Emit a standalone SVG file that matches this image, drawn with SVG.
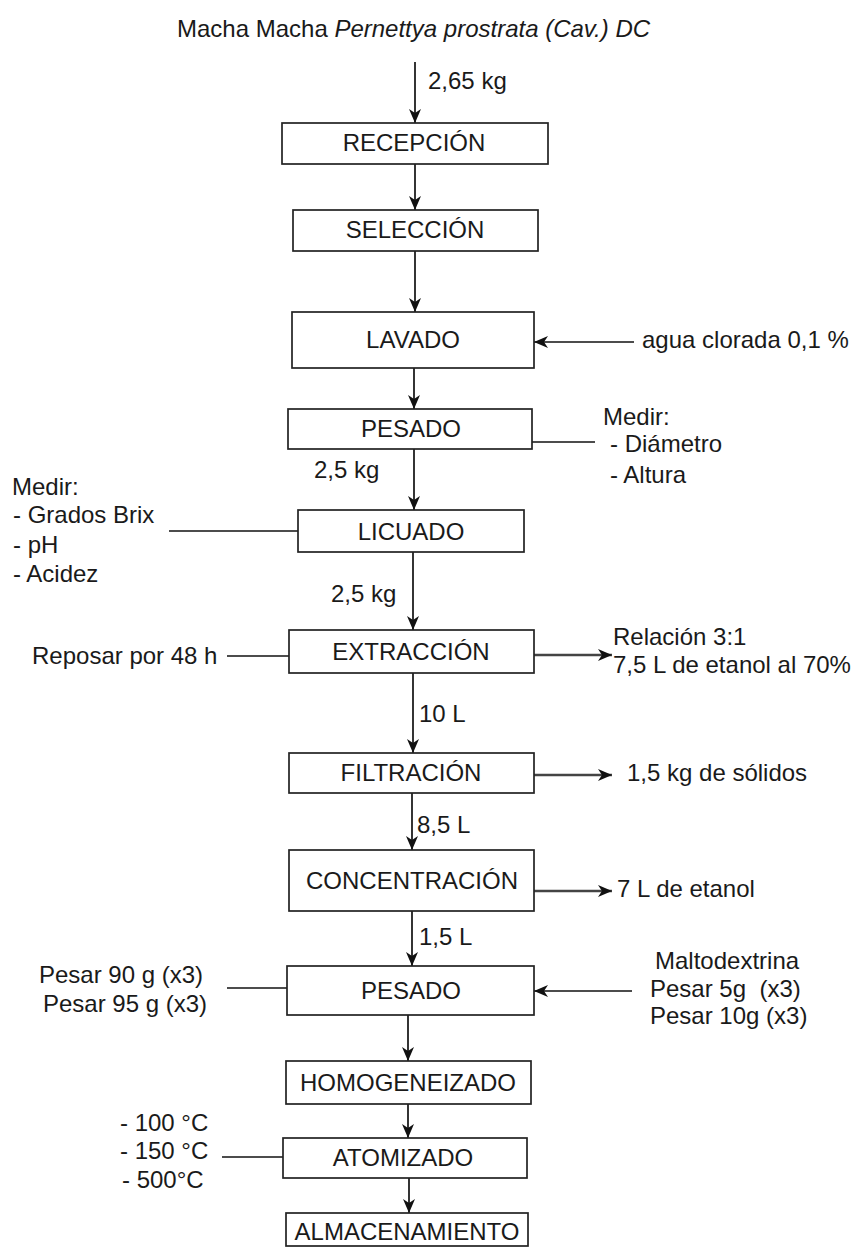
<svg xmlns="http://www.w3.org/2000/svg" width="855" height="1248" viewBox="0 0 855 1248">
<style>
  text { font-family: "Liberation Sans", Arial, sans-serif; font-size: 24px; fill: #1a1a1a; }
  .c { text-anchor: middle; }
  .box { fill: #ffffff; stroke: #222222; stroke-width: 1.7; }
  .ln { stroke: #111111; stroke-width: 1.7; fill: none; }
  .arr { stroke: #111111; stroke-width: 1.7; fill: none; marker-end: url(#ah); }
  .arrg { stroke: #444444; stroke-width: 2.6; fill: none; marker-end: url(#ah); }
</style>
<defs>
  <marker id="ah" markerUnits="userSpaceOnUse" markerWidth="16" markerHeight="14" refX="14" refY="7" orient="auto">
    <path d="M0,1 L14,7 L0,13 L4,7 Z" fill="#111111"/>
  </marker>
</defs>
<rect x="0" y="0" width="855" height="1248" fill="#ffffff"/>

<g id="title">
  <text x="177" y="37">Macha Macha <tspan font-style="italic">Pernettya prostrata (Cav.) DC</tspan></text>
</g>

<g id="connectors">
  <line class="arr" x1="415" y1="62" x2="415" y2="123"/>
  <line class="arr" x1="415" y1="164" x2="415" y2="210"/>
  <line class="arr" x1="415" y1="251" x2="415" y2="312"/>
  <line class="arr" x1="634" y1="342" x2="534" y2="342"/>
  <line class="arr" x1="414" y1="368" x2="414" y2="409"/>
  <line class="ln" x1="532" y1="442" x2="595" y2="442"/>
  <line class="arr" x1="414" y1="449" x2="414" y2="510"/>
  <line class="ln" x1="169" y1="531" x2="298" y2="531"/>
  <line class="arr" x1="413" y1="552" x2="413" y2="630"/>
  <line class="ln" x1="227" y1="656" x2="289" y2="656"/>
  <line class="arrg" x1="534" y1="655" x2="612" y2="655"/>
  <line class="arr" x1="413" y1="673" x2="413" y2="753"/>
  <line class="arrg" x1="534" y1="775" x2="612" y2="775"/>
  <line class="arr" x1="412" y1="793" x2="412" y2="850"/>
  <line class="arrg" x1="534" y1="891" x2="612" y2="891"/>
  <line class="arr" x1="412" y1="911" x2="412" y2="966"/>
  <line class="ln" x1="227" y1="988" x2="287" y2="988"/>
  <line class="arr" x1="632" y1="991" x2="534" y2="991"/>
  <line class="arr" x1="408" y1="1015" x2="408" y2="1061"/>
  <line class="arr" x1="408" y1="1104" x2="408" y2="1138"/>
  <line class="ln" x1="222" y1="1157" x2="283" y2="1157"/>
  <line class="arr" x1="409" y1="1178" x2="409" y2="1213"/>
</g>

<g id="labels">
  <text x="428" y="89">2,65 kg</text>
  <text x="642" y="348">agua clorada 0,1 %</text>
  <text x="603" y="425">Medir:</text>
  <text x="610" y="452">- Diámetro</text>
  <text x="610" y="483">- Altura</text>
  <text x="314" y="478">2,5 kg</text>
  <text x="12" y="495">Medir:</text>
  <text x="13" y="523">- Grados Brix</text>
  <text x="13" y="553">- pH</text>
  <text x="13" y="582">- Acidez</text>
  <text x="331" y="602">2,5 kg</text>
  <text x="32" y="664">Reposar por 48 h</text>
  <text x="613" y="645">Relación 3:1</text>
  <text x="613" y="673">7,5 L de etanol al 70%</text>
  <text x="419" y="722">10 L</text>
  <text x="627" y="781">1,5 kg de sólidos</text>
  <text x="417" y="833">8,5 L</text>
  <text x="617" y="897">7 L de etanol</text>
  <text x="419" y="945">1,5 L</text>
  <text x="39" y="983">Pesar 90 g (x3)</text>
  <text x="43" y="1012">Pesar 95 g (x3)</text>
  <text x="655" y="969">Maltodextrina</text>
  <text x="650" y="997" xml:space="preserve">Pesar 5g  (x3)</text>
  <text x="650" y="1024">Pesar 10g (x3)</text>
  <text x="120" y="1131">- 100 °C</text>
  <text x="120" y="1159">- 150 °C</text>
  <text x="122" y="1188">- 500°C</text>
</g>

<g id="n-recepcion"><rect class="box" x="282" y="123" width="266" height="41"/><text class="c" x="414" y="151">RECEPCIÓN</text></g>
<g id="n-seleccion"><rect class="box" x="293" y="210" width="245" height="41"/><text class="c" x="415" y="238">SELECCIÓN</text></g>
<g id="n-lavado"><rect class="box" x="292" y="312" width="242" height="56"/><text class="c" x="413" y="348">LAVADO</text></g>
<g id="n-pesado1"><rect class="box" x="288" y="409" width="244" height="40"/><text class="c" x="411" y="437">PESADO</text></g>
<g id="n-licuado"><rect class="box" x="298" y="510" width="226" height="42"/><text class="c" x="411" y="540">LICUADO</text></g>
<g id="n-extraccion"><rect class="box" x="289" y="630" width="245" height="43"/><text class="c" x="411" y="660">EXTRACCIÓN</text></g>
<g id="n-filtracion"><rect class="box" x="289" y="753" width="245" height="40"/><text class="c" x="411" y="781">FILTRACIÓN</text></g>
<g id="n-concentracion"><rect class="box" x="289" y="850" width="245" height="61"/><text class="c" x="412" y="889">CONCENTRACIÓN</text></g>
<g id="n-pesado2"><rect class="box" x="287" y="966" width="247" height="49"/><text class="c" x="411" y="999">PESADO</text></g>
<g id="n-homogeneizado"><rect class="box" x="286" y="1061" width="245" height="43"/><text class="c" x="408" y="1091">HOMOGENEIZADO</text></g>
<g id="n-atomizado"><rect class="box" x="283" y="1138" width="244" height="40"/><text class="c" x="403" y="1166">ATOMIZADO</text></g>
<g id="n-almacenamiento"><rect class="box" x="286" y="1213" width="242" height="33"/><text class="c" x="407" y="1240">ALMACENAMIENTO</text></g>
</svg>
